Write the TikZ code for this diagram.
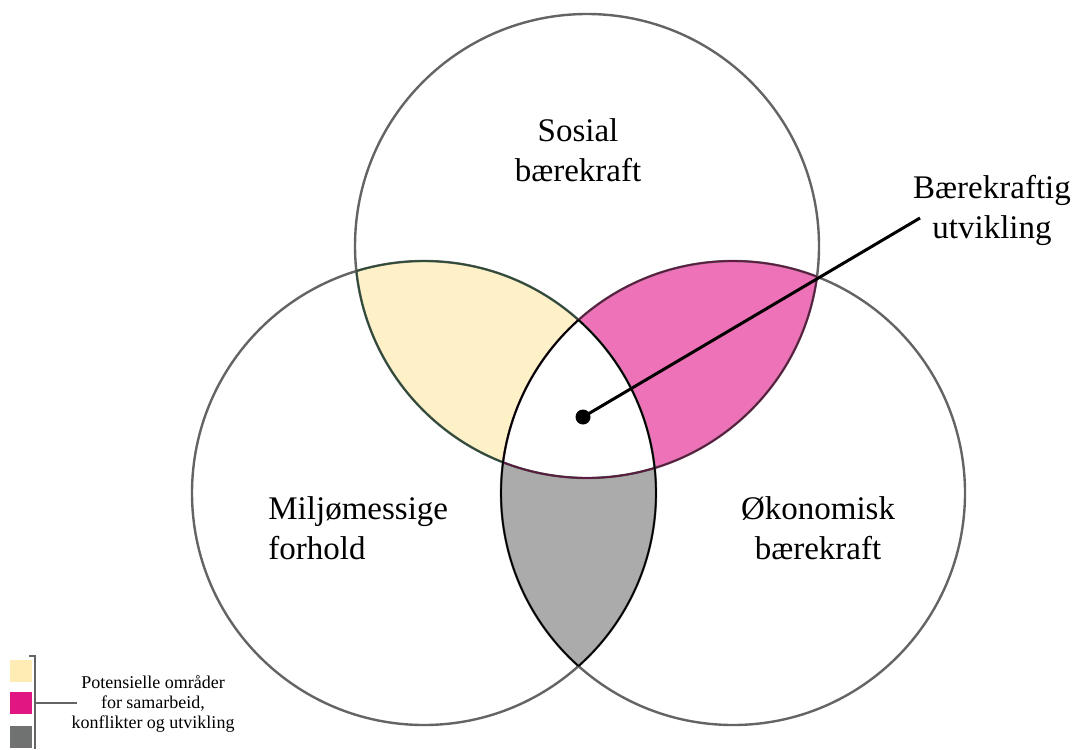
\documentclass[tikz,border=0pt]{standalone}
\usepackage{fontspec}
\setmainfont{Liberation Serif}
\definecolor{ringgray}{RGB}{100,100,100}
\definecolor{lensyellow}{RGB}{255,241,199}
\definecolor{lenspink}{RGB}{238,114,184}
\definecolor{lensgray}{RGB}{171,171,171}
\definecolor{rimgreen}{RGB}{45,75,55}
\definecolor{rimpink}{RGB}{95,25,65}
\definecolor{keyyellow}{RGB}{255,236,180}
\definecolor{keypink}{RGB}{226,22,130}
\definecolor{keygray}{RGB}{112,114,114}
\begin{document}
\begin{tikzpicture}[x=0.5pt,y=-0.5pt,
	ring/.style={draw=ringgray,line width=1.2pt},
	rim/.style={line width=0.8pt},
	bigtext/.style={font=\fontsize{16.5}{20}\selectfont,align=center,inner sep=0pt},
	keytext/.style={font=\fontsize{9}{10}\selectfont,align=center,inner sep=0pt},
	keybox/.style={minimum width=11pt,minimum height=11pt,inner sep=0pt}]
		\useasboundingbox (0,0) rectangle (1074,749);
		\def\rad{116pt}
		\coordinate (sos) at (587,246);
		\coordinate (milj) at (424,493);
		\coordinate (oko) at (733,493);

		% overlapping areas
		\begin{scope}
			\clip (sos) circle[radius=\rad];
			\fill[lensyellow] (milj) circle[radius=\rad];
			\fill[lenspink] (oko) circle[radius=\rad];
		\end{scope}
		\begin{scope}
			\clip (milj) circle[radius=\rad];
			\fill[lensgray] (oko) circle[radius=\rad];
		\end{scope}
		\begin{scope}
			\clip (sos) circle[radius=\rad];
			\clip (milj) circle[radius=\rad];
			\fill[white] (oko) circle[radius=\rad];
		\end{scope}

		\draw[ring] (sos) circle[radius=\rad];
		\draw[ring] (milj) circle[radius=\rad];
		\draw[ring] (oko) circle[radius=\rad];

		\foreach \a/\b/\c in {sos/milj/rimgreen, milj/sos/rimgreen, sos/oko/rimpink, oko/sos/rimpink, milj/oko/black, oko/milj/black} {
			\begin{scope}
				\clip (\a) circle[radius=\rad];
				\draw[rim,draw=\c] (\b) circle[radius=\rad];
			\end{scope}
		}

		\node[bigtext] (sosial) at (578,150) {Sosial\\bærekraft};
		\node[bigtext,align=left,anchor=west] (miljo) at (268,528) {Miljømessige\\forhold};
		\node[bigtext] (okonom) at (818,528) {Økonomisk\\bærekraft};
		\node[bigtext] (utv) at (992,210) {Bærekraftig\\utvikling};

		\node[circle,fill=black,inner sep=0pt,minimum size=7.5pt] (dot) at (583,417) {};
		\coordinate (tip) at (920,218);
		\draw[line width=1.5pt] (dot.center) -- (tip);

		% legend
		\node[keybox,fill=keyyellow] (k1) at (21,671) {};
		\node[keybox,fill=keypink] (k2) at (21,703) {};
		\node[keybox,fill=keygray,anchor=north] (k3) at (21,726) {};
		\node[keytext] (keytxt) at (153,704) {Potensielle områder\\for samarbeid,\\konflikter og utvikling};
		\coordinate (bartop) at (35,656);
		\coordinate (barbot) at (35,749);
		\coordinate (barmid) at (35,703);
		\coordinate (barend) at (77,703);
		\draw[ringgray,line width=0.6pt] (29,656) -- (bartop) -- (barbot);
		\draw[ringgray,line width=0.6pt] (barmid) -- (barend);
\end{tikzpicture}
\end{document}
